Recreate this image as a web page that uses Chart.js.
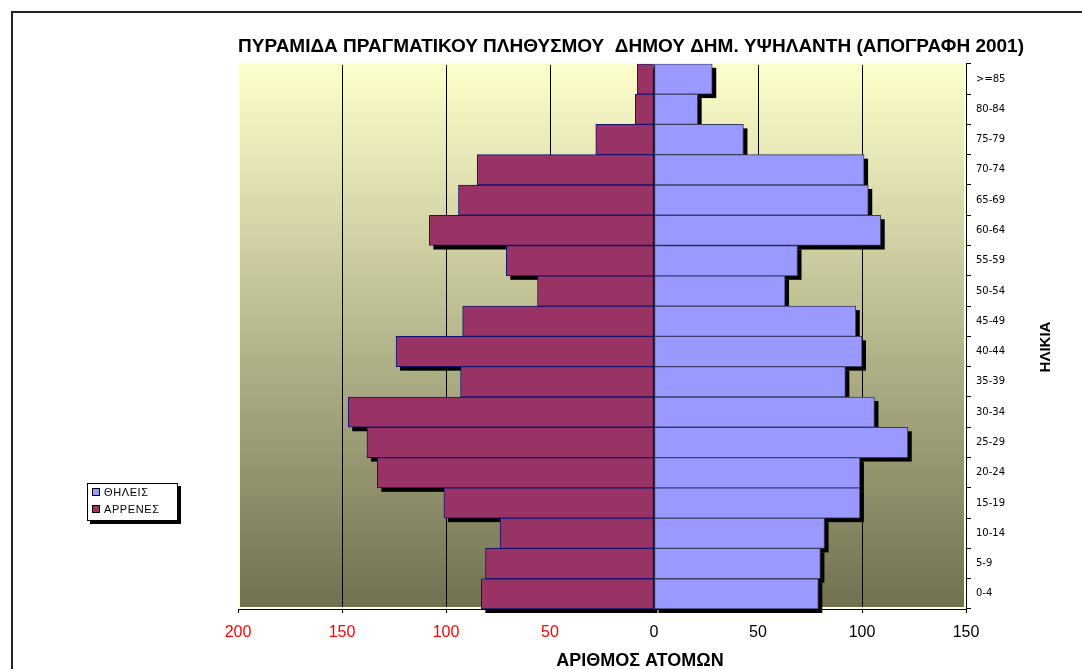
<!DOCTYPE html>
<html>
<head>
<meta charset="utf-8">
<script src="https://cdn.jsdelivr.net/npm/chart.js@4"></script>
<style>
  html, body { margin:0; padding:0; background:#fff; overflow:hidden; }
  #wrap { position:relative; width:1082px; height:669px; }
  #frame { position:absolute; left:11px; top:11px; width:1100px; height:700px;
           border-left:2px solid #222; border-top:2px solid #222; }
  #c { position:absolute; left:0; top:0; }
  #legend { position:absolute; left:87px; top:483px; width:89px; height:36px;
            border:1px solid #000; background:#fff; box-shadow:3px 3px 0 #000;
            font:11px "Liberation Sans", Arial, sans-serif; letter-spacing:0.6px; color:#000; }
  #legend div { height:17px; line-height:17px; padding-left:4px; }
  #legend i { display:inline-block; width:6px; height:6px; border:1px solid #000;
              margin-right:4px; vertical-align:0px; }
</style>
</head>
<body>
<div id="wrap">
  <div id="frame"></div>
  <canvas id="c" width="1082" height="669"></canvas>
  <div id="legend"></div>
</div>
<script>
// Πυραμίδα πληθυσμού – Δήμος Δημ. Υψηλάντη, απογραφή 2001
const AGES = ["0-4","5-9","10-14","15-19","20-24","25-29","30-34","35-39","40-44",
              "45-49","50-54","55-59","60-64","65-69","70-74","75-79","80-84",">=85"];
const MALES   = [83, 81, 74, 101, 133, 138, 147, 93, 124, 92, 56, 71, 108, 94, 85, 28, 9, 8];
const FEMALES = [79, 80, 82, 99, 99, 122, 106, 92, 100, 97, 63, 69, 109, 103, 101, 43, 21, 28];
const SERIES = ["ΘΗΛΕΙΣ", "ΑΡΡΕΝΕΣ"];
const X_MIN = -200, X_MAX = 150, X_STEP = 50;

const TITLE = "ΠΥΡΑΜΙΔΑ ΠΡΑΓΜΑΤΙΚΟΥ ΠΛΗΘΥΣΜΟΥ  ΔΗΜΟΥ ΔΗΜ. ΥΨΗΛΑΝΤΗ (ΑΠΟΓΡΑΦΗ 2001)";
const X_TITLE = "ΑΡΙΘΜΟΣ ΑΤΟΜΩΝ";
const Y_TITLE = "ΗΛΙΚΙΑ";

const COL_F = "#9999ff", COL_M = "#993366";
const FONT = "'Liberation Sans', Arial, sans-serif";

// legend (html)
const $ = (id) => document.getElementById(id);
$("legend").innerHTML = SERIES.map((s, i) =>
  `<div><i style="background:${i === 0 ? COL_F : COL_M}"></i>${s}</div>`).join("");

// gradient plot background + cream border + black drop shadows behind bars + axis titles
const plotDeco = {
  id: "plotDeco",
  beforeDraw(c) {
    const { ctx, chartArea: a } = c;
    const g = ctx.createLinearGradient(0, a.top, 0, a.bottom);
    g.addColorStop(0, "#ffffcc");
    g.addColorStop(1, "#70704f");
    ctx.save();
    ctx.fillStyle = g;
    ctx.fillRect(a.left, a.top, a.right - a.left, a.bottom - a.top);
    ctx.restore();
  },
  beforeDatasetsDraw(c) {
    const { ctx, chartArea: a } = c;
    ctx.save();
    ctx.strokeStyle = "#ffffd8";
    ctx.lineWidth = 2;
    ctx.strokeRect(a.left + 1, a.top, a.right - a.left - 2, a.bottom - a.top - 1);
    ctx.fillStyle = "#000";
    c.data.datasets.forEach((d, di) => {
      c.getDatasetMeta(di).data.forEach((el) => {
        const p = el.getProps(["x", "y", "base", "height"], true);
        const l = Math.min(p.x, p.base), w = Math.abs(p.x - p.base);
        ctx.fillRect(l + 4, p.y - p.height / 2 + 4, w, p.height);
      });
    });
    ctx.restore();
  },
  afterDraw(c) {
    const { ctx, chartArea: a } = c;
    ctx.save();
    ctx.fillStyle = "#000";
    ctx.textAlign = "center";
    ctx.textBaseline = "middle";
    ctx.font = "bold 18px " + FONT;
    ctx.fillText(X_TITLE, (a.left + a.right) / 2 + 38, a.bottom + 52);
    ctx.font = "bold 15px " + FONT;
    ctx.translate(a.right + 80, 347);
    ctx.rotate(-Math.PI / 2);
    ctx.fillText(Y_TITLE, 0, 0);
    ctx.restore();
  },
};

new Chart($("c"), {
  type: "bar",
  data: {
    labels: AGES,
    datasets: [
      { label: SERIES[0], data: FEMALES, backgroundColor: COL_F, borderColor: "#3c3c66",
        borderWidth: 1, borderSkipped: false, barPercentage: 1, categoryPercentage: 1 },
      { label: SERIES[1], data: MALES.map((v) => -v), backgroundColor: COL_M, borderColor: "#14146e",
        borderWidth: 1, borderSkipped: false, barPercentage: 1, categoryPercentage: 1 },
    ],
  },
  options: {
    indexAxis: "y",
    responsive: false,
    animation: false,
    layout: { padding: { left: 238, right: 58, top: 0, bottom: 0 } },
    scales: {
      x: {
        stacked: true, min: X_MIN, max: X_MAX,
        afterFit: (s) => { s.height = 60; },
        border: { color: "#000", width: 1 },
        grid: { color: "#000", lineWidth: 1, tickLength: 4, tickColor: "#000" },
        ticks: {
          stepSize: X_STEP, padding: 10,
          font: { family: FONT, size: 16 },
          color: (ctx) => (ctx.tick && ctx.tick.value < 0 ? "#ff0000" : "#000"),
          callback: (v) => Math.abs(v),
        },
      },
      y: {
        stacked: true, position: "right", reverse: true,
        afterFit: (s) => { s.width = 58; },
        border: { color: "#000", width: 1 },
        grid: { display: true, drawOnChartArea: false, offset: true, tickLength: 5, tickColor: "#000" },
        ticks: { padding: 5, color: "#000", font: { family: "'DejaVu Sans', Verdana, sans-serif", size: 10 } },
      },
    },
    plugins: {
      legend: { display: false },
      tooltip: { enabled: false },
      title: { display: true, text: TITLE, color: "#000",
               font: { family: FONT, size: 19, weight: "bold" },
               padding: { top: 35, bottom: 6 } },
    },
  },
  plugins: [plotDeco],
});
</script>
</body>
</html>
